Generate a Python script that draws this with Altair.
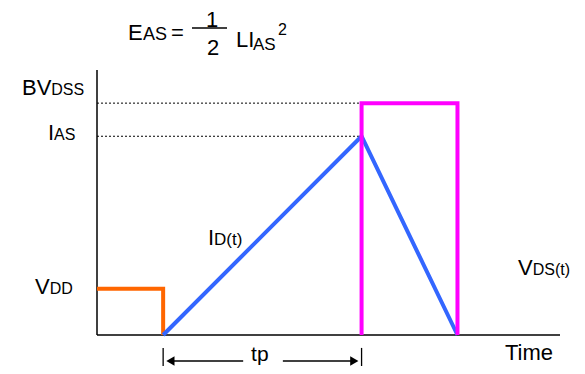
import altair as alt
import pandas as pd

# Waveform data (time units, value units)
orange_t = [0, 1, 1]
orange_v = [1.4, 1.4, 0]
blue_t = [1, 4, 5.45]
blue_v = [0, 6, 0]
magenta_t = [4, 4, 5.45, 5.45]
magenta_v = [0, 7, 7, 0]
ref_levels = [7, 6]          # BVDSS, IAS dotted references
ref_end = 4                  # dotted lines end at tp
axis_t_max = 7
axis_v_max = 8

# Annotation text pieces: text, x (time), y (value), font size
lab_text = ["BV", "DSS", "I", "AS", "V", "DD", "I", "D(t)", "V", "DS(t)", "Time",
            "E", "AS", "=", "L", "I", "AS", "2", "tp"]
lab_x = [-1.134, -0.691, -0.741, -0.650, -0.937, -0.715, 1.678, 1.770, 6.365, 6.587, 6.168,
         0.469, 0.695, 1.119, 2.102, 2.286, 2.359, 2.737, 2.33]
lab_y = [7.245, 7.245, 5.887, 5.887, 1.238, 1.238, 2.717, 2.717, 1.811, 1.811, -0.755,
         8.906, 8.906, 8.906, 8.694, 8.694, 8.604, 9.057, -0.785]
lab_size = [22, 16, 22, 16, 22, 16, 22, 17, 22, 16, 22,
            22, 18, 22, 22, 22, 17, 16, 21]

frac_text = ["1", "2"]
frac_x = [1.739, 1.754]
frac_y = [9.298, 8.453]

W, H = 463, 265
xs = alt.Scale(domain=[0, axis_t_max], nice=False, zero=False)
ys = alt.Scale(domain=[0, axis_v_max], nice=False, zero=False)
FONT = "Liberation Sans"

def line_df(t, v):
    return pd.DataFrame({"t": t, "v": v, "i": list(range(len(t)))})

def wave(t, v, color):
    return alt.Chart(line_df(t, v)).mark_line(
        color=color, strokeWidth=4, strokeJoin="miter", clip=False
    ).encode(
        x=alt.X("t:Q", scale=xs, axis=None),
        y=alt.Y("v:Q", scale=ys, axis=None),
        order="i:Q",
    )

def seg(df, **kw):
    return alt.Chart(df).mark_rule(clip=False, **kw).encode(
        x=alt.X("x:Q", scale=xs, axis=None),
        x2="x2:Q",
        y=alt.Y("y:Q", scale=ys, axis=None),
        y2="y2:Q",
    )

axes_df = pd.DataFrame({"x": [0, 0], "x2": [0, axis_t_max], "y": [0, 0], "y2": [axis_v_max, 0]})
axes = seg(axes_df, color="black", strokeWidth=1.5)

dots_df = pd.DataFrame({"x": [0] * len(ref_levels), "x2": [ref_end] * len(ref_levels),
                        "y": ref_levels, "y2": ref_levels})
dots = seg(dots_df, color="black", strokeWidth=1, strokeDash=[2, 2])

# tp dimension arrow
arrow_df = pd.DataFrame({"x": [1.10, 2.81, 1, 4], "x2": [2.21, 3.92, 1, 4],
                         "y": [-0.785, -0.785, -0.39, -0.39], "y2": [-0.785, -0.785, -1.25, -1.25]})
arrow = seg(arrow_df, color="black", strokeWidth=1.3)

heads_df = pd.DataFrame({"x": [1.11, 3.89], "y": [-0.785, -0.785],
                         "shape": ["triangle-left", "triangle-right"]})
heads = alt.Chart(heads_df).mark_point(filled=True, color="black", opacity=1, size=90, clip=False).encode(
    x=alt.X("x:Q", scale=xs, axis=None),
    y=alt.Y("y:Q", scale=ys, axis=None),
    shape=alt.Shape("shape:N", scale=None),
)

# fraction bar
bar_df = pd.DataFrame({"x": [1.436], "x2": [1.966], "y": [9.268], "y2": [9.268]})
fbar = seg(bar_df, color="black", strokeWidth=1.5)

labels_df = pd.DataFrame({"text": lab_text, "x": lab_x, "y": lab_y, "size": lab_size})
labels = alt.Chart(labels_df).mark_text(align="left", baseline="alphabetic", font=FONT,
                                        color="black", clip=False).encode(
    x=alt.X("x:Q", scale=xs, axis=None),
    y=alt.Y("y:Q", scale=ys, axis=None),
    text="text:N",
    size=alt.Size("size:Q", scale=None),
)

frac_df = pd.DataFrame({"text": frac_text, "x": frac_x, "y": frac_y})
frac = alt.Chart(frac_df).mark_text(align="center", baseline="alphabetic", font=FONT,
                                    fontSize=22, color="black", clip=False).encode(
    x=alt.X("x:Q", scale=xs, axis=None),
    y=alt.Y("y:Q", scale=ys, axis=None),
    text="text:N",
)

chart = alt.layer(
    dots, axes,
    wave(orange_t, orange_v, "#FF6600"),
    wave(blue_t, blue_v, "#3366FF"),
    wave(magenta_t, magenta_v, "#FF00FF"),
    arrow, heads, fbar, labels, frac,
).properties(
    width=W, height=H,
    padding={"left": 89, "top": 62, "right": 17, "bottom": 31},
    autosize=alt.AutoSizeParams(type="none"),
).configure_view(stroke=None)

chart.save("out.html", embed_options={"renderer": "svg", "actions": False})
